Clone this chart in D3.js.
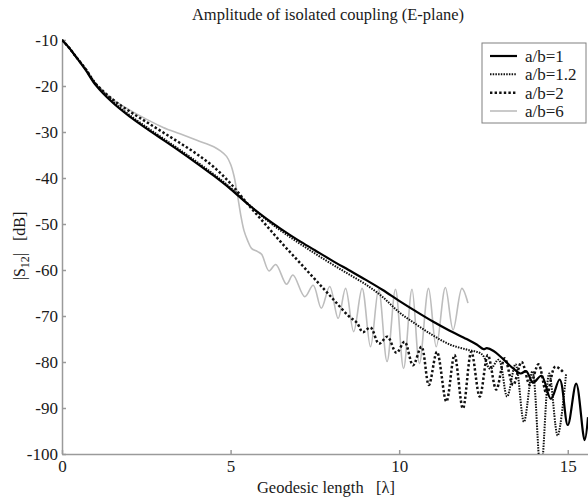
<!DOCTYPE html>
<html>
<head>
<meta charset="utf-8">
<title>Amplitude of isolated coupling</title>
<script src="https://cdnjs.cloudflare.com/ajax/libs/d3/7.8.5/d3.min.js"></script>
<style>
    body { margin: 0; background: #fff; }
    svg { display: block; font-family: "Liberation Serif", "Times New Roman", Times, serif; }
    svg text { font-family: "Liberation Serif", "Times New Roman", Times, serif; fill: #1a1a1a; }
    .axis path, .axis line { stroke: #9a9a9a; stroke-width: 1.5; }
    .axis text { font-size: 17px; }
</style>
</head>
<body>
<div id="chart"></div>
<script>
// tick labels
const xTicks = [0, 5, 10, 15];
const yTicks = [-10, -20, -30, -40, -50, -60, -70, -80, -90, -100];
const seriesNames = ["a/b=1", "a/b=1.2", "a/b=2", "a/b=6"];

// a/b=1 (solid)
const lenAB1 = [0, 0.2, 0.4, 0.7, 1, 1.5, 2, 2.5, 3, 3.5, 4, 4.5, 5, 5.5, 6, 6.5, 7, 7.5, 8, 8.5, 9, 9.5, 10, 10.5, 11, 11.5, 12, 12.3, 12.5, 12.6, 12.8, 13, 13.2, 13.38, 13.6, 13.77, 13.97, 14.22, 14.5, 14.76, 15.0, 15.25, 15.5, 15.6];
const dbAB1 = [-10, -11.6, -13.5, -16.5, -19.8, -23.6, -26.6, -29.2, -31.7, -34.2, -36.8, -39.5, -42.4, -45.6, -48.5, -51.1, -53.5, -55.7, -57.9, -60, -62.1, -64.3, -66.7, -69, -71.2, -73.2, -75, -76.2, -77.2, -77, -77.6, -78.8, -80.2, -81.4, -82.5, -82, -84.5, -83, -88, -83.8, -93.7, -84.7, -97, -92];

// a/b=1.2 (fine dots)
const lenAB12 = [0, 0.2, 0.4, 0.7, 1, 1.5, 2, 2.5, 3, 3.5, 4, 4.5, 5, 5.5, 6, 6.5, 7, 7.5, 8, 8.5, 9, 9.5, 10, 10.5, 11, 11.5, 12, 12.45, 12.7, 12.95, 13.2, 13.45, 13.7, 13.95, 14.2, 14.45, 14.7, 14.95];
const dbAB12 = [-10, -11.6, -13.5, -16.3, -19.5, -23.3, -26.3, -28.9, -31.4, -33.9, -36.5, -39.2, -42.1, -45.5, -48.7, -51.5, -54, -56.4, -58.7, -60.9, -63.1, -65.8, -69.2, -71.8, -74.2, -76.2, -77.3, -78.3, -81.5, -79.5, -87.5, -80.5, -93, -82, -104, -82.5, -96, -82.5];

// a/b=2 (coarse dots)
const lenAB2 = [0, 0.2, 0.4, 0.7, 1, 1.5, 2, 2.5, 3, 3.5, 4, 4.5, 5, 5.5, 6, 6.5, 7, 7.5, 8, 8.5, 8.75, 8.92, 9.15, 9.4, 9.65, 9.92, 10.16, 10.41, 10.66, 10.88, 11.12, 11.4, 11.64, 11.89, 12.14, 12.39, 12.63, 12.88, 13.13, 13.38, 13.63, 13.88, 14.13, 14.38, 14.63, 14.9];
const dbAB2 = [-10, -11.6, -13.5, -16.3, -19.5, -22.9, -25.5, -27.8, -30.1, -32.4, -34.8, -37.6, -41.2, -45.6, -49.8, -54, -58, -62, -66, -70, -71.5, -73.5, -72.5, -76, -74.5, -78, -75.6, -80.7, -76.7, -85, -77.8, -88.6, -78.5, -90.1, -77.8, -87.5, -78.5, -86, -79.2, -85, -80, -85, -80.5, -87, -81, -82.5];

// a/b=6 (grey)
const lenAB6 = [0, 0.2, 0.4, 0.7, 1, 1.25, 1.5, 2, 2.5, 3, 3.5, 4, 4.5, 4.7, 4.88, 5.0, 5.1, 5.2, 5.3, 5.4, 5.5, 5.62, 5.8, 5.92, 6.14, 6.34, 6.66, 6.85, 7.2, 7.45, 7.69, 7.94, 8.19, 8.41, 8.65, 8.9, 9.15, 9.39, 9.64, 9.89, 10.13, 10.38, 10.6, 10.87, 11.1, 11.37, 11.6, 11.86, 12.04];
const dbAB6 = [-10, -11.6, -13.5, -16.4, -19.5, -21.3, -22.9, -25.2, -27.2, -29, -30.4, -31.8, -33.2, -34.1, -35.3, -37, -39.5, -43.5, -48, -51.5, -53.5, -55.3, -56, -56.6, -60.2, -58.8, -63.1, -61.1, -65.8, -63.3, -68.3, -63.6, -70.5, -64, -73.4, -64, -76.7, -64.2, -79.9, -64.2, -81.4, -64.2, -80.3, -64, -76.7, -63.8, -73, -64, -67.2];

const width = 588, height = 498;
const plotLeft = 62, plotRight = 588, plotTop = 40, plotBottom = 454;

const svg = d3.select('#chart').append('svg')
    .attr('width', width)
    .attr('height', height);

const x = d3.scaleLinear().domain([0, 15.6]).range([plotLeft, plotRight]);
const y = d3.scaleLinear().domain([-100, -10]).range([plotBottom, plotTop]);

svg.append('defs').append('clipPath').attr('id', 'plot')
    .append('rect')
    .attr('x', plotLeft).attr('y', plotTop - 2)
    .attr('width', plotRight - plotLeft).attr('height', plotBottom - plotTop + 2);

// axes (plain hyphen for negatives, as in the original)
svg.append('g')
    .attr('class', 'axis')
    .attr('transform', `translate(0,${plotBottom})`)
    .call(d3.axisBottom(x).tickValues(xTicks).tickFormat(d => String(d))
        .tickSize(-4).tickSizeOuter(0).tickPadding(6));

svg.append('g')
    .attr('class', 'axis')
    .attr('transform', `translate(${plotLeft},0)`)
    .call(d3.axisLeft(y).tickValues(yTicks).tickFormat(d => String(d))
        .tickSize(-4).tickSizeOuter(0).tickPadding(4));

// lines
const line = d3.line()
    .x(d => x(d[0]))
    .y(d => y(d[1]))
    .curve(d3.curveCatmullRom.alpha(0.5));

const styles = {
    "a/b=1": { color: "#000", width: 2.2, dash: null },
    "a/b=1.2": { color: "#111", width: 2, dash: "1.5,1.2" },
    "a/b=2": { color: "#111", width: 2.5, dash: "2.4,2.2" },
    "a/b=6": { color: "#bdbdbd", width: 1.6, dash: null }
};

const series = [
    { name: "a/b=6", pts: d3.zip(lenAB6, dbAB6) },
    { name: "a/b=2", pts: d3.zip(lenAB2, dbAB2) },
    { name: "a/b=1.2", pts: d3.zip(lenAB12, dbAB12) },
    { name: "a/b=1", pts: d3.zip(lenAB1, dbAB1) }
];

svg.append('g').attr('clip-path', 'url(#plot)')
    .selectAll('path')
    .data(series)
    .join('path')
    .attr('fill', 'none')
    .attr('stroke', d => styles[d.name].color)
    .attr('stroke-width', d => styles[d.name].width)
    .attr('stroke-dasharray', d => styles[d.name].dash)
    .attr('stroke-linejoin', 'round')
    .attr('d', d => line(d.pts));

// title and labels
svg.append('text')
    .attr('x', 328).attr('y', 20)
    .attr('text-anchor', 'middle')
    .style('font-size', '16.5px')
    .text("Amplitude of isolated coupling (E-plane)");

svg.append('text')
    .attr('x', 326).attr('y', 493)
    .attr('text-anchor', 'middle')
    .style('font-size', '16.5px')
    .text("Geodesic length\u00a0\u00a0\u00a0[\u03bb]");

const yl = svg.append('text')
    .attr('transform', 'translate(25,246) rotate(-90)')
    .attr('text-anchor', 'middle')
    .style('font-size', '16px');
yl.append('tspan').text("|S");
yl.append('tspan').attr('dy', 4).style('font-size', '12px').text("12");
yl.append('tspan').attr('dy', -4).text("|\u00a0\u00a0\u00a0[dB]");

// legend
const lg = svg.append('g');
lg.append('rect')
    .attr('x', 482).attr('y', 43)
    .attr('width', 104).attr('height', 80)
    .attr('fill', '#fff')
    .attr('stroke', '#808080')
    .attr('stroke-width', 1);

const legendY = d3.scalePoint().domain(seriesNames).range([56, 111]);

seriesNames.forEach(name => {
    const s = styles[name];
    lg.append('line')
        .attr('x1', 490).attr('x2', 517)
        .attr('y1', legendY(name)).attr('y2', legendY(name))
        .attr('stroke', s.color)
        .attr('stroke-width', s.width)
        .attr('stroke-dasharray', s.dash);
    lg.append('text')
        .attr('x', 525).attr('y', legendY(name))
        .attr('dy', '0.35em')
        .style('font-size', '17px')
        .text(name);
});
</script>
</body>
</html>
